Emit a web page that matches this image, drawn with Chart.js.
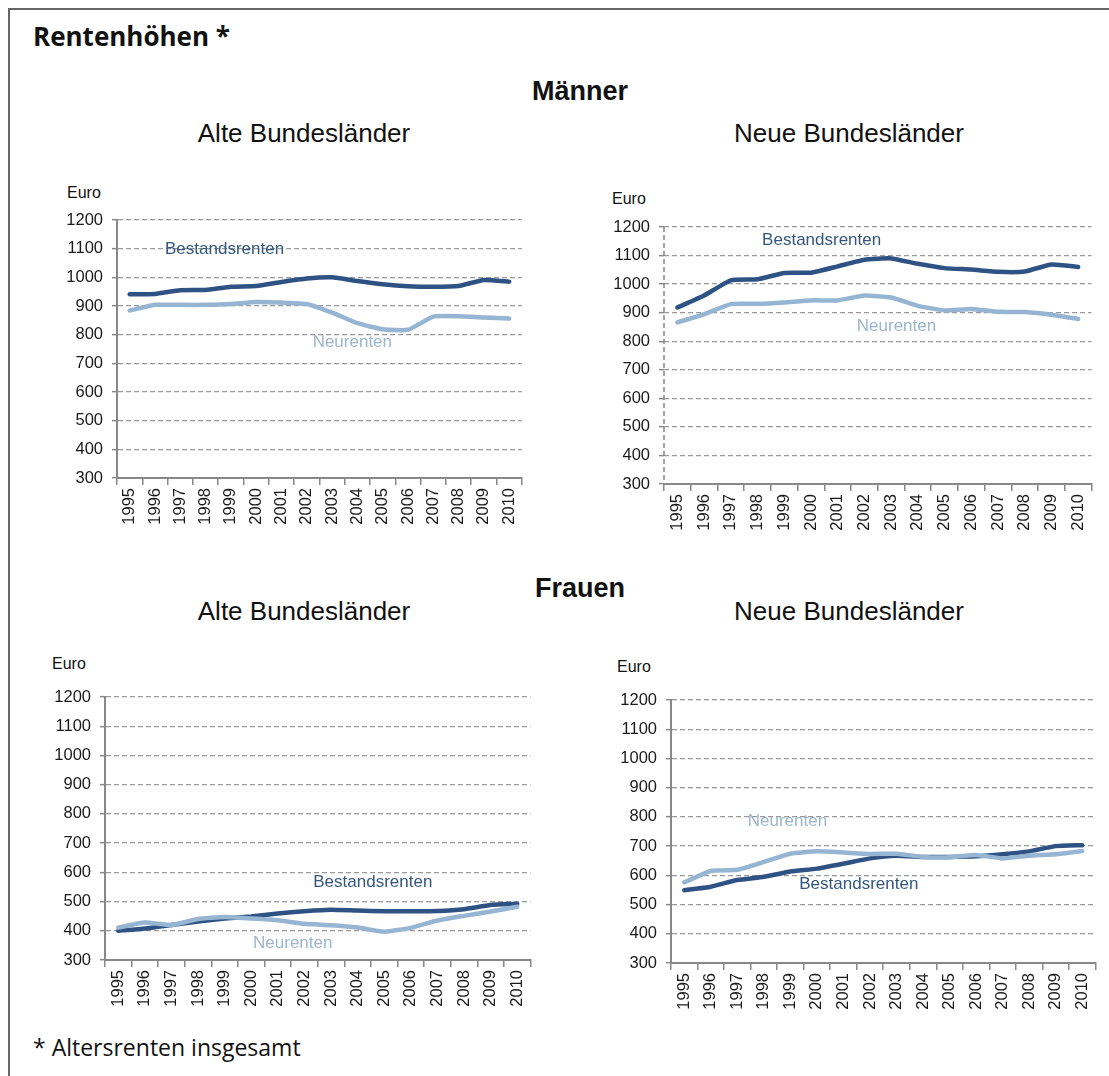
<!DOCTYPE html>
<html>
<head>
<meta charset="utf-8">
<title>Rentenhöhen</title>
<script src="https://cdn.jsdelivr.net/npm/chart.js@4.4.1/dist/chart.umd.min.js"></script>
<style>
  body { margin: 0; background: #fff; }
  #page { position: relative; width: 1109px; height: 1076px; overflow: hidden; background: #fff; }
  #frame { position: absolute; left: 8px; top: 8px; width: 1300px; height: 1300px;
           border-left: 2px solid #666; border-top: 2px solid #666; }
  .t { position: absolute; white-space: nowrap; line-height: 1; color: #111; }
  .arial { font-family: "Liberation Sans", Arial, sans-serif; }
  .open { font-family: "Open Sans", "Noto Sans", sans-serif; }
  .center { transform: translateX(-50%); }
  .box { position: absolute; }
</style>
</head>
<body>
<div id="page">
  <div id="frame"></div>

  <div class="t open" style="left:33px;top:23px;font-size:26px;font-weight:bold;">Rentenhöhen *</div>

  <div class="t arial center" style="left:580px;top:78px;font-size:27px;font-weight:bold;">Männer</div>
  <div class="t arial center" style="left:304px;top:120px;font-size:26px;">Alte Bundesländer</div>
  <div class="t arial center" style="left:849px;top:120px;font-size:26px;">Neue Bundesländer</div>

  <div class="t arial center" style="left:580px;top:575px;font-size:27px;font-weight:bold;">Frauen</div>
  <div class="t arial center" style="left:304px;top:598px;font-size:26px;">Alte Bundesländer</div>
  <div class="t arial center" style="left:849px;top:598px;font-size:26px;">Neue Bundesländer</div>

  <div class="t arial" style="left:67px;top:185px;font-size:16px;">Euro</div>
  <div class="t arial" style="left:612px;top:191px;font-size:16px;">Euro</div>
  <div class="t arial" style="left:52px;top:656px;font-size:16px;">Euro</div>
  <div class="t arial" style="left:617px;top:659px;font-size:16px;">Euro</div>

  <div class="box" style="left:60px;top:180px;"><canvas id="c1" width="472" height="353"></canvas></div>
  <div class="box" style="left:600px;top:185px;"><canvas id="c2" width="501" height="354"></canvas></div>
  <div class="box" style="left:45px;top:650px;"><canvas id="c3" width="495" height="365"></canvas></div>
  <div class="box" style="left:605px;top:655px;"><canvas id="c4" width="500" height="363"></canvas></div>

  <div class="t open" style="left:33px;top:1036px;font-size:23px;">* Altersrenten insgesamt</div>
</div>

<script>
// years on the x axis
const years = ['1995', '1996', '1997', '1998', '1999', '2000', '2001', '2002',
               '2003', '2004', '2005', '2006', '2007', '2008', '2009', '2010'];

// y axis range (Euro)
const yMin = 300;
const yMax = 1200;
const yStep = 100;

// Männer, alte Bundesländer
const maennerWestBestand = [941, 942, 955, 956, 967, 970, 984, 996, 1000, 987, 976, 969, 967, 970, 991, 985];
const maennerWestNeu     = [884, 904, 904, 904, 907, 914, 912, 907, 877, 840, 819, 817, 863, 864, 860, 856];

// Männer, neue Bundesländer
const maennerOstBestand = [918, 960, 1013, 1017, 1039, 1040, 1062, 1085, 1090, 1071, 1056, 1051, 1043, 1044, 1069, 1060];
const maennerOstNeu     = [866, 894, 930, 931, 936, 943, 943, 960, 953, 924, 908, 913, 903, 902, 893, 878];

// Frauen, alte Bundesländer
const frauenWestBestand = [400, 408, 420, 432, 442, 449, 459, 467, 472, 469, 467, 467, 468, 474, 488, 492];
const frauenWestNeu     = [411, 428, 420, 440, 447, 442, 436, 424, 419, 411, 397, 410, 435, 451, 466, 482];

// Frauen, neue Bundesländer
const frauenOstBestand = [549, 561, 584, 595, 613, 623, 640, 658, 667, 663, 663, 665, 672, 682, 700, 703];
const frauenOstNeu     = [576, 615, 619, 646, 674, 682, 678, 673, 674, 663, 662, 670, 658, 667, 672, 683];

const DARK = '#2d5283';
const LIGHT = '#95b5d3';
const DARK_TEXT = '#34577f';
const LIGHT_TEXT = '#9bb6ce';
const TICK_FONT = { family: '"Liberation Sans", Arial, sans-serif', size: 16.5 };

// draws the in-chart series names at a position given in data units
const seriesLabels = {
  id: 'seriesLabels',
  afterDatasetsDraw(chart, args, opts) {
    const ctx = chart.ctx;
    const xs = chart.scales.x, ys = chart.scales.y;
    ctx.save();
    ctx.font = '17px "Liberation Sans", Arial, sans-serif';
    ctx.textAlign = 'center';
    ctx.textBaseline = 'middle';
    (opts.items || []).forEach(it => {
      ctx.fillStyle = it.color;
      ctx.fillText(it.text, xs.getPixelForValue(it.at[0]), ys.getPixelForValue(it.at[1]));
    });
    ctx.restore();
  }
};

// dashed y axis line (only used on one panel)
const dashedAxis = {
  id: 'dashedAxis',
  afterDraw(chart, args, opts) {
    if (!opts.on) return;
    const ctx = chart.ctx, a = chart.chartArea;
    ctx.save();
    ctx.strokeStyle = '#888';
    ctx.lineWidth = 1.5;
    ctx.setLineDash([5, 3]);
    ctx.beginPath();
    ctx.moveTo(a.left, a.top);
    ctx.lineTo(a.left, a.bottom);
    ctx.stroke();
    ctx.restore();
  }
};

function makeChart(id, bestand, neu, yAxisWidth, padTop, labels, dashed) {
  const ctx = document.getElementById(id).getContext('2d');
  return new Chart(ctx, {
    type: 'line',
    data: {
      labels: years,
      datasets: [
        { label: 'Neurenten', data: neu, borderColor: LIGHT, borderWidth: 4.5 },
        { label: 'Bestandsrenten', data: bestand, borderColor: DARK, borderWidth: 4.5 }
      ]
    },
    options: {
      responsive: false,
      animation: false,
      events: [],
      layout: { padding: { top: padTop, left: 0, right: 0, bottom: 0 } },
      elements: {
        point: { radius: 0 },
        line: { tension: 0.15, borderJoinStyle: 'round', borderCapStyle: 'round', fill: false }
      },
      plugins: {
        legend: { display: false },
        tooltip: { enabled: false },
        seriesLabels: { items: labels },
        dashedAxis: { on: dashed }
      },
      scales: {
        x: {
          type: 'category',
          offset: true,
          grid: { display: true, drawOnChartArea: false, offset: true, color: '#888', tickLength: 7, lineWidth: 1.5 },
          border: { display: true, color: '#888', width: 2 },
          ticks: {
            autoSkip: false, minRotation: 90, maxRotation: 90, padding: 3,
            color: '#1a1a1a', font: TICK_FONT
          },
          afterFit: s => { s.height = 55; }
        },
        y: {
          min: yMin, max: yMax,
          grid: { color: '#9a9a9a', lineWidth: 1.3, tickLength: 5, tickColor: '#888', tickBorderDash: [], tickWidth: 1.5 },
          border: { display: !dashed, color: '#888', width: 2, dash: [5, 3] },
          ticks: {
            stepSize: yStep, padding: 9,
            color: '#1a1a1a', font: TICK_FONT,
            callback: v => String(v)
          },
          afterFit: s => { s.width = yAxisWidth; }
        }
      }
    },
    plugins: [seriesLabels, dashedAxis]
  });
}

makeChart('c1', maennerWestBestand, maennerWestNeu, 57, 40, [
  { text: 'Bestandsrenten', at: [3.75, 1099], color: DARK_TEXT },
  { text: 'Neurenten', at: [8.8, 775], color: LIGHT_TEXT }
], false);

makeChart('c2', maennerOstBestand, maennerOstNeu, 64, 42, [
  { text: 'Bestandsrenten', at: [5.4, 1154], color: DARK_TEXT },
  { text: 'Neurenten', at: [8.2, 853], color: LIGHT_TEXT }
], true);

makeChart('c3', frauenWestBestand, frauenWestNeu, 60, 47, [
  { text: 'Bestandsrenten', at: [9.57, 566], color: DARK_TEXT },
  { text: 'Neurenten', at: [6.56, 358], color: LIGHT_TEXT }
], false);

makeChart('c4', frauenOstBestand, frauenOstNeu, 66, 45, [
  { text: 'Neurenten', at: [3.89, 786], color: LIGHT_TEXT },
  { text: 'Bestandsrenten', at: [6.58, 570], color: DARK_TEXT }
], false);
</script>
</body>
</html>
